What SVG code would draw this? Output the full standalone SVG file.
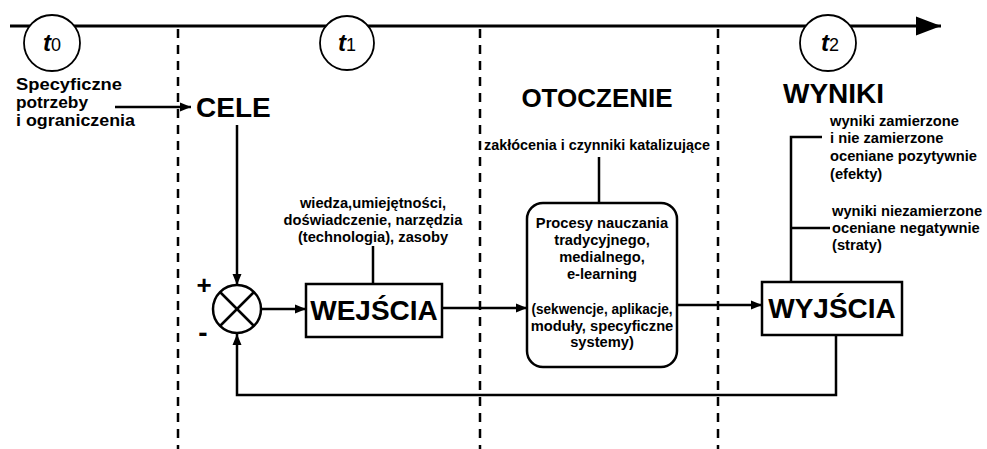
<svg xmlns="http://www.w3.org/2000/svg" width="987" height="449" viewBox="0 0 987 449">
<defs>
<style>
text{font-family:"Liberation Sans",Arial,sans-serif;fill:#000}
.sm{font-size:14.7px;font-weight:bold}
.big{font-size:28px;font-weight:bold}
.mid{font-size:16px;font-weight:bold}
.ln{stroke:#000;stroke-width:2.5;fill:none}
.box{stroke:#000;stroke-width:2.5;fill:#fff}
.dash{stroke:#000;stroke-width:2.5;stroke-dasharray:9 7;fill:none}
.tc{stroke:#000;stroke-width:1.8;fill:#fff}
.tt{font-size:24px;font-weight:bold;font-style:italic}
.ts{font-size:18px;font-weight:normal;font-style:normal}
</style>
<marker id="ah" markerUnits="userSpaceOnUse" markerWidth="12" markerHeight="10" refX="11" refY="5" orient="auto">
<path d="M0,0.5 L11,5 L0,9.5 Z" fill="#000"/>
</marker>
<marker id="bigah" markerUnits="userSpaceOnUse" markerWidth="26" markerHeight="20" refX="25" refY="10" orient="auto">
<path d="M0,0.5 L25,10 L0,19.5 Z" fill="#000"/>
</marker>
</defs>
<rect width="987" height="449" fill="#fff"/>

<g id="timeline">
<line x1="10" y1="26" x2="941" y2="26" stroke="#000" stroke-width="3" marker-end="url(#bigah)"/>
<line class="dash" x1="178" y1="29" x2="178" y2="449"/>
<line class="dash" x1="480" y1="29" x2="480" y2="449"/>
<line class="dash" x1="718" y1="29" x2="718" y2="449"/>
</g>

<g id="connectors">
<line class="ln" x1="115" y1="107" x2="191" y2="107" marker-end="url(#ah)"/>
<line class="ln" x1="237" y1="125" x2="237" y2="285" marker-end="url(#ah)"/>
<line class="ln" x1="261" y1="309" x2="306" y2="309" marker-end="url(#ah)"/>
<line class="ln" x1="373" y1="246" x2="373" y2="284"/>
<line class="ln" x1="442" y1="308" x2="527" y2="308" marker-end="url(#ah)"/>
<line class="ln" x1="599" y1="157" x2="599" y2="203"/>
<line class="ln" x1="677" y1="305" x2="762" y2="305" marker-end="url(#ah)"/>
<polyline class="ln" points="822,137 791,137 791,282"/>
<line class="ln" x1="791" y1="228" x2="830" y2="228"/>
<polyline class="ln" points="836,335 836,395 237,395 237,334" marker-end="url(#ah)"/>
</g>

<g id="t0">
<circle class="tc" cx="52" cy="43" r="28"/>
<text x="52" y="51" text-anchor="middle" class="tt">t<tspan class="ts">0</tspan></text>
</g>
<g id="t1">
<circle class="tc" cx="347" cy="43" r="27"/>
<text x="347" y="51" text-anchor="middle" class="tt">t<tspan class="ts">1</tspan></text>
</g>
<g id="t2">
<circle class="tc" cx="828" cy="43" r="28"/>
<text x="830" y="51" text-anchor="middle" class="tt">t<tspan class="ts">2</tspan></text>
</g>

<g id="potrzeby">
<text class="mid" x="16" y="90" textLength="106" lengthAdjust="spacingAndGlyphs">Specyficzne</text>
<text class="mid" x="16" y="108" textLength="72" lengthAdjust="spacingAndGlyphs">potrzeby</text>
<text class="mid" x="16" y="126" textLength="119" lengthAdjust="spacingAndGlyphs">i ograniczenia</text>
</g>

<g id="cele">
<text class="big" x="196" y="117">CELE</text>
</g>

<g id="otoczenie">
<text x="597" y="107" text-anchor="middle" style="font-size:26px;font-weight:bold">OTOCZENIE</text>
</g>

<g id="wyniki">
<text class="big" x="783" y="103">WYNIKI</text>
</g>

<g id="sumator">
<circle cx="237" cy="309" r="24" fill="#fff" stroke="#000" stroke-width="2.5"/>
<line class="ln" x1="220" y1="292" x2="254" y2="326"/>
<line class="ln" x1="254" y1="292" x2="220" y2="326"/>
<text x="204" y="294" text-anchor="middle" style="font-size:26px;font-weight:bold">+</text>
<text x="203" y="342" text-anchor="middle" style="font-size:28px;font-weight:bold">-</text>
</g>

<g id="zasoby">
<text class="sm" x="373" y="208" text-anchor="middle">wiedza,umiejętności,</text>
<text class="sm" x="373" y="225" text-anchor="middle">doświadczenie, narzędzia</text>
<text class="sm" x="373" y="242" text-anchor="middle">(technologia), zasoby</text>
</g>

<g id="wejscia">
<rect class="box" x="306" y="284" width="136" height="53"/>
<text class="big" x="374" y="320" text-anchor="middle">WEJŚCIA</text>
</g>

<g id="zaklocenia">
<text class="sm" x="597" y="150" text-anchor="middle" textLength="226" lengthAdjust="spacingAndGlyphs">zakłócenia i czynniki katalizujące</text>
</g>

<g id="procesy">
<rect class="box" x="527" y="203" width="150" height="164" rx="16" ry="16"/>
<text class="sm" x="602" y="228" text-anchor="middle">Procesy nauczania</text>
<text class="sm" x="602" y="245" text-anchor="middle">tradycyjnego,</text>
<text class="sm" x="602" y="262" text-anchor="middle">medialnego,</text>
<text class="sm" x="602" y="279" text-anchor="middle">e-learning</text>
<text class="sm" x="602" y="314" text-anchor="middle" textLength="141" lengthAdjust="spacingAndGlyphs">(sekwencje, aplikacje,</text>
<text class="sm" x="602" y="331" text-anchor="middle">moduły, specyficzne</text>
<text class="sm" x="602" y="347" text-anchor="middle">systemy)</text>
</g>

<g id="wyjscia">
<rect class="box" x="762" y="282" width="140" height="53"/>
<text class="big" x="832" y="318" text-anchor="middle">WYJŚCIA</text>
</g>

<g id="efekty">
<text class="sm" x="830" y="126">wyniki zamierzone</text>
<text class="sm" x="830" y="143">i nie zamierzone</text>
<text class="sm" x="830" y="161">oceniane pozytywnie</text>
<text class="sm" x="830" y="179">(efekty)</text>
</g>

<g id="straty">
<text class="sm" x="832" y="216">wyniki niezamierzone</text>
<text class="sm" x="832" y="233">oceniane negatywnie</text>
<text class="sm" x="832" y="250">(straty)</text>
</g>
</svg>
